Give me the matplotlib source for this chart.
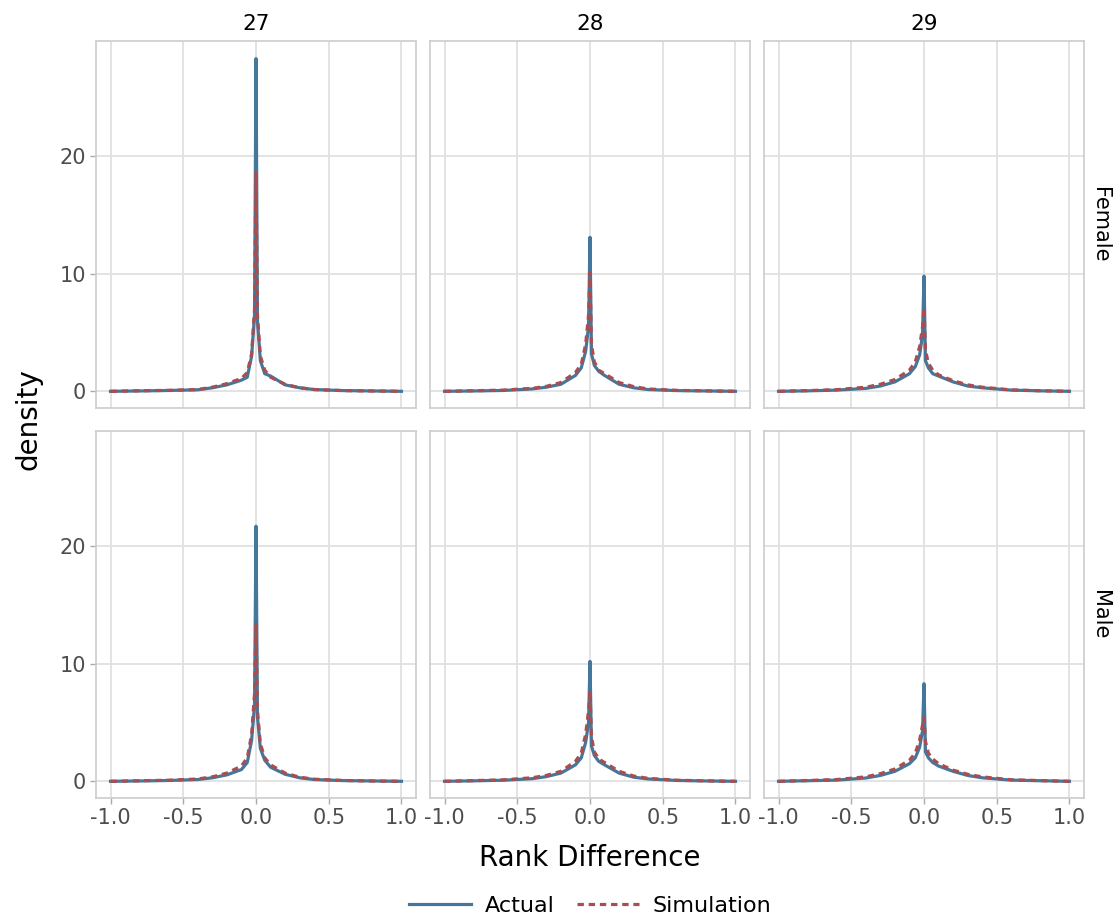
import numpy as np
import matplotlib
matplotlib.use('Agg')
import matplotlib.pyplot as plt
from matplotlib.lines import Line2D

plt.rcParams['font.family'] = ['DejaVu Sans']

# Pontos de avaliação da densidade (diferença de rank)
rank_diff = [-1.0, -0.8, -0.6, -0.4, -0.3, -0.2, -0.1, -0.06, -0.03, -0.01, 0.0,
             0.01, 0.03, 0.06, 0.1, 0.2, 0.3, 0.4, 0.6, 0.8, 1.0]

ages = ['27', '28', '29']
sexes = ['Female', 'Male']

# Densidades observadas e simuladas por sexo e idade
female_27_actual = [0.0, 0.03, 0.07, 0.13, 0.3, 0.55, 0.95, 1.2, 3.0, 6.5, 28.3,
                    6.0, 2.6, 1.5, 1.3, 0.55, 0.3, 0.15, 0.06, 0.03, 0.0]
female_27_sim = [0.0, 0.05, 0.08, 0.15, 0.35, 0.65, 1.1, 1.6, 3.2, 7.0, 18.6,
                 6.5, 3.0, 1.8, 1.2, 0.6, 0.3, 0.15, 0.06, 0.03, 0.0]
female_28_actual = [0.0, 0.03, 0.07, 0.2, 0.35, 0.6, 1.35, 2.0, 3.4, 5.5, 13.1,
                    3.2, 2.2, 1.7, 1.35, 0.6, 0.3, 0.15, 0.06, 0.03, 0.0]
female_28_sim = [0.0, 0.05, 0.1, 0.25, 0.42, 0.75, 1.6, 2.3, 4.0, 6.5, 10.1,
                 4.0, 2.5, 1.8, 1.5, 0.75, 0.4, 0.2, 0.08, 0.04, 0.0]
female_29_actual = [0.0, 0.04, 0.1, 0.25, 0.45, 0.8, 1.5, 2.1, 3.1, 4.8, 9.8,
                    2.6, 2.0, 1.5, 1.3, 0.8, 0.45, 0.3, 0.1, 0.04, 0.0]
female_29_sim = [0.0, 0.06, 0.14, 0.35, 0.6, 1.0, 1.8, 2.5, 3.8, 5.5, 7.1,
                 3.5, 2.4, 1.8, 1.4, 0.9, 0.55, 0.35, 0.12, 0.05, 0.0]
male_27_actual = [0.0, 0.03, 0.07, 0.15, 0.3, 0.55, 1.0, 1.6, 3.5, 6.5, 21.7,
                  5.5, 2.8, 1.8, 1.2, 0.6, 0.3, 0.15, 0.06, 0.03, 0.0]
male_27_sim = [0.0, 0.05, 0.09, 0.2, 0.38, 0.7, 1.3, 2.0, 4.0, 7.5, 13.5,
               6.0, 3.2, 2.0, 1.4, 0.7, 0.35, 0.18, 0.07, 0.03, 0.0]
male_28_actual = [0.0, 0.04, 0.09, 0.22, 0.4, 0.7, 1.4, 2.0, 3.3, 5.0, 10.2,
                  3.0, 2.2, 1.7, 1.4, 0.7, 0.35, 0.2, 0.07, 0.03, 0.0]
male_28_sim = [0.0, 0.06, 0.12, 0.3, 0.5, 0.85, 1.7, 2.4, 4.0, 6.0, 7.7,
               3.8, 2.5, 1.9, 1.6, 0.85, 0.45, 0.25, 0.09, 0.04, 0.0]
male_29_actual = [0.0, 0.05, 0.1, 0.28, 0.5, 0.85, 1.5, 2.0, 2.9, 4.3, 8.3,
                  2.5, 2.0, 1.6, 1.3, 0.85, 0.5, 0.3, 0.1, 0.05, 0.0]
male_29_sim = [0.0, 0.07, 0.15, 0.38, 0.65, 1.05, 1.8, 2.4, 3.5, 4.8, 5.4,
               3.4, 2.4, 1.9, 1.5, 0.95, 0.6, 0.38, 0.13, 0.06, 0.0]

actual = {('Female', '27'): female_27_actual, ('Female', '28'): female_28_actual,
          ('Female', '29'): female_29_actual, ('Male', '27'): male_27_actual,
          ('Male', '28'): male_28_actual, ('Male', '29'): male_29_actual}
simulation = {('Female', '27'): female_27_sim, ('Female', '28'): female_28_sim,
              ('Female', '29'): female_29_sim, ('Male', '27'): male_27_sim,
              ('Male', '28'): male_28_sim, ('Male', '29'): male_29_sim}

cor_actual = '#44779b'
cor_sim = '#a84e50'
cor_grid = '#e0e0e0'
cor_borda = '#cccccc'

fig = plt.figure(figsize=(11.18, 9.22), dpi=100)
W, H = 1118, 922

col_left = [96, 430, 764]
row_top = [41, 431]
panel_w, panel_h = 320, 367

for r, sexo in enumerate(sexes):
    for c, idade in enumerate(ages):
        ax = fig.add_axes([col_left[c] / W, 1 - (row_top[r] + panel_h) / H,
                           panel_w / W, panel_h / H])
        ax.plot(rank_diff, actual[(sexo, idade)], color=cor_actual, lw=2.3,
                solid_joinstyle='round', zorder=3)
        ax.plot(rank_diff, simulation[(sexo, idade)], color=cor_sim, lw=2.3,
                dashes=(2.0, 1.5), zorder=4)
        ax.set_xlim(-1.1, 1.1)
        ax.set_ylim(-1.42, 29.8)
        ax.set_xticks([-1.0, -0.5, 0.0, 0.5, 1.0])
        ax.set_yticks([0, 10, 20])
        ax.grid(True, color=cor_grid, lw=1.3)
        ax.set_axisbelow(True)
        for s in ax.spines.values():
            s.set_color(cor_borda)
            s.set_linewidth(1.2)
        ax.tick_params(color='#aaaaaa', length=4, width=1, labelsize=15,
                       labelcolor='#4d4d4d', pad=3)
        if r == 0:
            ax.set_title(idade, fontsize=15.5, pad=8)
            ax.tick_params(labelbottom=False, bottom=False)
        else:
            ax.set_xticklabels(['-1.0', '-0.5', '0.0', '0.5', '1.0'])
        if c > 0:
            ax.tick_params(labelleft=False, left=False)
        if c == 2:
            ax.text(1.05, 0.5, sexo, transform=ax.transAxes, rotation=-90,
                    fontsize=15, ha='center', va='center')

fig.text(590 / W, 1 - 858 / H, 'Rank Difference', fontsize=20,
         ha='center', va='center')
fig.text(28 / W, 1 - 419 / H, 'density', fontsize=20, rotation=90,
         ha='center', va='center')

handles = [Line2D([], [], color=cor_actual, lw=2.3),
           Line2D([], [], color=cor_sim, lw=2.3, dashes=(2.0, 1.5))]
fig.legend(handles, ['Actual', 'Simulation'], loc='center',
           bbox_to_anchor=(590 / W, 1 - 906 / H), ncol=2, frameon=False,
           fontsize=16, handlelength=2.8, columnspacing=1.0, handletextpad=0.6)

plt.savefig('out.png', dpi=100)
